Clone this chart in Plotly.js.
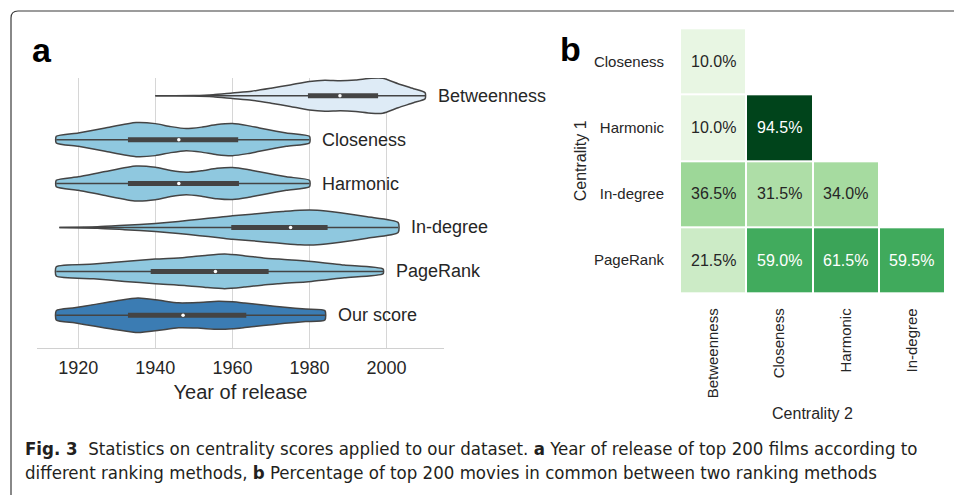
<!DOCTYPE html>
<html><head><meta charset="utf-8">
<script src="https://cdn.plot.ly/plotly-3.0.1.min.js"></script>
<style>html,body{margin:0;padding:0;background:#fff}#chart{width:954px;height:495px}</style>
</head><body><div id="chart"></div>
<script>
// ---------- Panel a : violin outlines ----------
const methods = ['Betweenness', 'Closeness', 'Harmonic', 'In-degree', 'PageRank', 'Our score'];

const betweennessYears   = [1940, 1950, 1955, 1960, 1965, 1970, 1975, 1980, 1984, 1988, 1992, 1996, 1999, 2003, 2007, 2010];
const betweennessDensity = [0, 0.2, 1, 2.8, 4.5, 7.5, 10.8, 14.3, 15.5, 15, 15.8, 17.5, 17.5, 12, 7, 3];

const closenessYears   = [1914.3, 1920, 1927, 1935, 1940, 1944, 1948, 1952, 1956, 1960, 1964, 1967, 1974, 1980];
const closenessDensity = [3.3, 6.7, 11.7, 17, 16, 13, 11, 12.5, 15, 16, 14, 11.7, 6.7, 3.3];

const harmonicYears   = [1914.3, 1920, 1927, 1935, 1940, 1944, 1948, 1952, 1956, 1960, 1964, 1967, 1974, 1980];
const harmonicDensity = [3.3, 6.7, 12, 17.5, 16.2, 13, 11.3, 12.8, 15.2, 16, 14, 11.7, 6.7, 3.3];

const indegreeYears   = [1915.1, 1925, 1932, 1940, 1946, 1951.5, 1956, 1960, 1965, 1969, 1973, 1977.5, 1982, 1988, 1995, 2003];
const indegreeDensity = [0, 0.7, 2.2, 4, 6, 8.3, 10, 11.7, 13.2, 14.7, 16, 17.3, 17.3, 14.7, 10.7, 5];

const pagerankYears   = [1914.3, 1924, 1932, 1940, 1947.6, 1953, 1958, 1963, 1968, 1972, 1980.5, 1989, 1999.1];
const pagerankDensity = [4.7, 7.3, 10, 12.3, 14, 16, 17.3, 15.7, 13.5, 12.3, 10, 6.3, 2.3];

const ourScoreYears   = [1914.3, 1919, 1924, 1930, 1935.5, 1941, 1946, 1951, 1956.3, 1960, 1963.2, 1968, 1973.6, 1979, 1984];
const ourScoreDensity = [4.7, 7.5, 10.7, 14.5, 17.3, 15, 12.5, 12.8, 14, 13.5, 12.3, 10.3, 8, 6.2, 4.7];

const quartile1 = [1979.6, 1932.9, 1932.9, 1959.7, 1938.8, 1932.9];
const quartile3 = [1997.8, 1961.5, 1961.7, 1984.7, 1969.4, 1963.6];
const medians   = [1987.9, 1946.1, 1946.1, 1975.1, 1955.6, 1947.2];

const yearTicks = [1920, 1940, 1960, 1980, 2000];

// ---------- Panel b : overlap percentages ----------
const centrality2 = ['Betweenness', 'Closeness', 'Harmonic', 'In-degree'];
const centrality1 = ['Closeness', 'Harmonic', 'In-degree', 'PageRank'];
const closenessRow = [10.0, null, null, null];
const harmonicRow  = [10.0, 94.5, null, null];
const indegreeRow  = [36.5, 31.5, 34.0, null];
const pagerankRow  = [21.5, 59.0, 61.5, 59.5];

// ---------- build ----------
const W = 954, H = 495;
const px = v => v / W, py = v => 1 - v / H;
const DENS_SCALE = 1 / 43.92;   // density units -> category units
const FONT = 'Liberation Sans, Arial, sans-serif';
const TXT = '#262626';
const EDGE = '#444444';
const fills = ['#deebf6', '#8fc8df', '#8fc8df', '#8fc8df', '#8fc8df', '#3b7cb3'];

const violinData = [
  [betweennessYears, betweennessDensity],
  [closenessYears, closenessDensity],
  [harmonicYears, harmonicDensity],
  [indegreeYears, indegreeDensity],
  [pagerankYears, pagerankDensity],
  [ourScoreYears, ourScoreDensity]
];

const traces = [];
const annotations = [];

violinData.forEach(([yrs, dens], i) => {
  const xs = yrs.concat(yrs.slice().reverse(), [yrs[0]]);
  const ys = dens.map(d => i - d * DENS_SCALE)
    .concat(dens.slice().reverse().map(d => i + d * DENS_SCALE), [i - dens[0] * DENS_SCALE]);
  traces.push({
    type: 'scatter', mode: 'lines', x: xs, y: ys, xaxis: 'x', yaxis: 'y',
    fill: 'toself', fillcolor: fills[i],
    line: {color: EDGE, width: 1.5, shape: 'spline', smoothing: 0.6},
    hoverinfo: 'skip', showlegend: false
  });
  // whisker
  traces.push({
    type: 'scatter', mode: 'lines', x: [yrs[0], yrs[yrs.length - 1]], y: [i, i],
    xaxis: 'x', yaxis: 'y', line: {color: EDGE, width: 1.5},
    hoverinfo: 'skip', showlegend: false
  });
  // box
  traces.push({
    type: 'scatter', mode: 'lines', x: [quartile1[i], quartile3[i]], y: [i, i],
    xaxis: 'x', yaxis: 'y', line: {color: EDGE, width: 5},
    hoverinfo: 'skip', showlegend: false
  });
  // median
  traces.push({
    type: 'scatter', mode: 'markers', x: [medians[i]], y: [i],
    xaxis: 'x', yaxis: 'y', marker: {color: '#ffffff', size: 3.5, line: {width: 0}},
    hoverinfo: 'skip', showlegend: false
  });
  annotations.push({
    xref: 'x', yref: 'y', x: yrs[yrs.length - 1], y: i, xshift: 11,
    xanchor: 'left', yanchor: 'middle', showarrow: false,
    text: methods[i], font: {family: FONT, size: 18, color: TXT}
  });
});

const zRows = [closenessRow, harmonicRow, indegreeRow, pagerankRow];
const zAll = zRows.flat().filter(v => v !== null);
const zMax = Math.max(...zAll);
traces.push({
  type: 'heatmap', x: centrality2, y: centrality1, z: zRows,
  xaxis: 'x2', yaxis: 'y2', zmin: 0, zmax: zMax,
  colorscale: [
    [0.0, '#f7fcf5'], [0.125, '#e5f5e0'], [0.25, '#c7e9c0'], [0.375, '#a1d99b'],
    [0.5, '#74c476'], [0.625, '#41ab5d'], [0.75, '#238b45'], [0.875, '#006d2c'], [1.0, '#00441b']
  ],
  showscale: false, xgap: 2, ygap: 2, hoverinfo: 'skip'
});
zRows.forEach((row, r) => row.forEach((v, c) => {
  if (v === null) return;
  annotations.push({
    xref: 'x2', yref: 'y2', x: centrality2[c], y: centrality1[r], showarrow: false,
    text: v.toFixed(1) + '%',
    font: {family: FONT, size: 16, color: v / zMax > 0.6 ? '#ffffff' : TXT}
  });
}));

// panel letters
annotations.push({xref: 'paper', yref: 'paper', x: px(30), y: py(71), xanchor: 'left', yanchor: 'bottom',
  showarrow: false, text: '<b>a</b>', font: {family: FONT, size: 34, color: '#000'}});
annotations.push({xref: 'paper', yref: 'paper', x: px(558), y: py(70), xanchor: 'left', yanchor: 'bottom',
  showarrow: false, text: '<b>b</b>', font: {family: FONT, size: 34, color: '#000'}});

// caption
const CAP = 'Liberation Sans Narrow, DejaVu Sans Condensed, sans-serif';
annotations.push({xref: 'paper', yref: 'paper', x: px(23), y: py(448), xanchor: 'left', yanchor: 'middle',
  showarrow: false, font: {family: CAP, size: 18.5, color: '#231f20'},
  text: '<b>Fig. 3</b>  Statistics on centrality scores applied to our dataset. <b>a</b> Year of release of top 200 films according to'});
annotations.push({xref: 'paper', yref: 'paper', x: px(23), y: py(472), xanchor: 'left', yanchor: 'middle',
  showarrow: false, font: {family: CAP, size: 18.5, color: '#231f20'},
  text: 'different ranking methods, <b>b</b> Percentage of top 200 movies in common between two ranking methods'});

const r = 7, L = 11, T = 11;
const framePath = `M ${px(L)} ${py(H + 2)} L ${px(L)} ${py(T + r)} Q ${px(L)} ${py(T)} ${px(L + r)} ${py(T)} L ${px(W + 2)} ${py(T)}`;

const layout = {
  width: W, height: H,
  margin: {l: 0, r: 0, t: 0, b: 0},
  paper_bgcolor: '#ffffff', plot_bgcolor: 'rgba(0,0,0,0)',
  font: {family: FONT, color: TXT},
  showlegend: false,
  xaxis: {
    domain: [px(37), px(444)], range: [1909.3, 2014.9], anchor: 'y',
    tickvals: yearTicks, ticktext: yearTicks.map(String),
    showgrid: true, gridcolor: '#d6d6d6', gridwidth: 1, zeroline: false,
    showline: true, linecolor: '#d0d0d0', linewidth: 1.2,
    ticks: 'outside', ticklen: 3, tickcolor: 'rgba(0,0,0,0)',
    tickfont: {family: FONT, size: 18, color: TXT},
    title: {text: 'Year of release', font: {family: FONT, size: 20, color: TXT}, standoff: 8}
  },
  yaxis: {
    domain: [py(348), py(78)], range: [5.744, -0.403], anchor: 'x',
    visible: false, showgrid: false, zeroline: false
  },
  xaxis2: {
    domain: [px(680), px(945)], anchor: 'y2', type: 'category',
    categoryorder: 'array', categoryarray: centrality2,
    showgrid: false, zeroline: false, showline: false,
    ticks: 'outside', ticklen: 8, tickcolor: 'rgba(0,0,0,0)', tickangle: -90,
    tickfont: {family: FONT, size: 15, color: TXT},
    title: {text: 'Centrality 2', font: {family: FONT, size: 16, color: TXT}, standoff: 10}
  },
  yaxis2: {
    domain: [py(293.3), py(28.3)], anchor: 'x2', type: 'category',
    categoryorder: 'array', categoryarray: centrality1, autorange: 'reversed',
    showgrid: false, zeroline: false, showline: false,
    ticks: 'outside', ticklen: 12, tickcolor: 'rgba(0,0,0,0)',
    tickfont: {family: FONT, size: 15, color: TXT},
    title: {text: 'Centrality 1', font: {family: FONT, size: 16, color: TXT}, standoff: 3}
  },
  annotations: annotations,
  shapes: [{type: 'path', xref: 'paper', yref: 'paper', path: framePath,
    line: {color: '#3a3a3a', width: 1.2}, fillcolor: 'rgba(0,0,0,0)'}]
};

Plotly.newPlot('chart', traces, layout, {staticPlot: true, displayModeBar: false});
</script>
</body></html>
